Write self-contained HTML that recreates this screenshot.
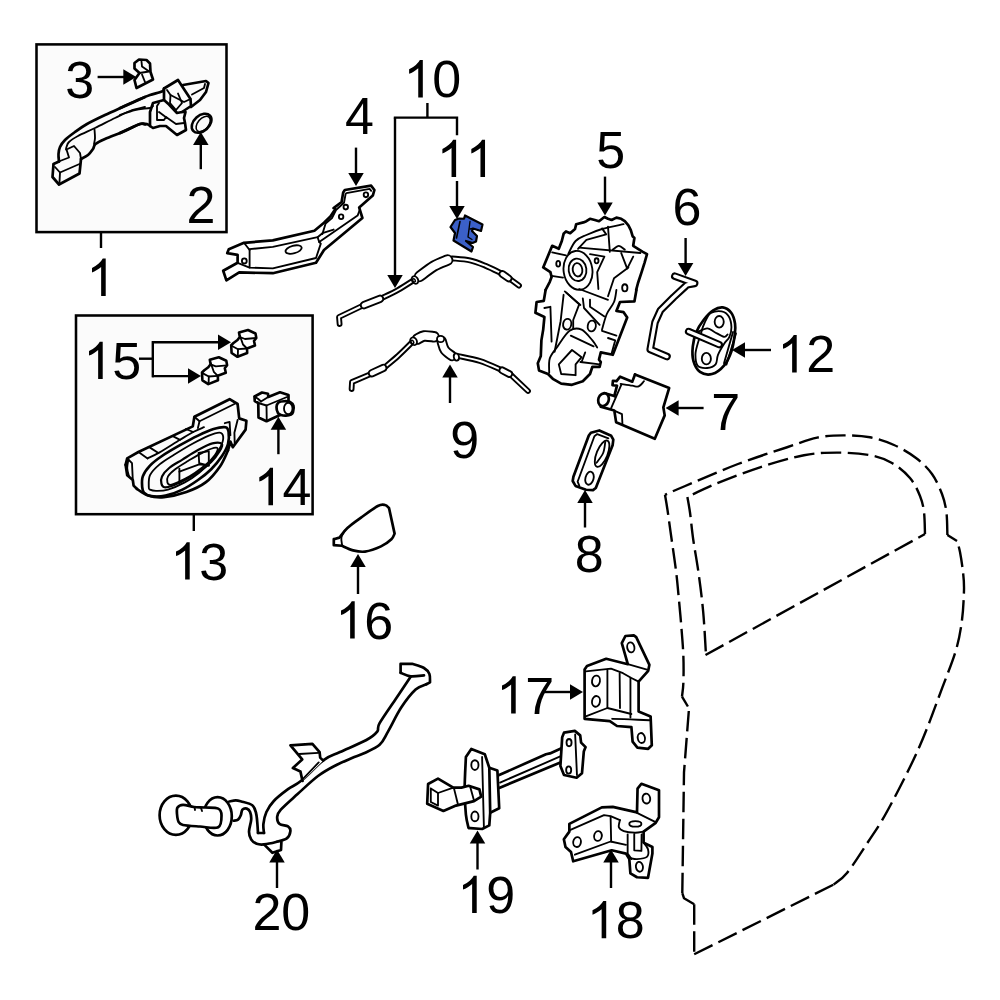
<!DOCTYPE html>
<html><head><meta charset="utf-8"><style>
html,body{margin:0;padding:0;background:#fff;}
svg{display:block;}
text{font-family:"Liberation Sans",sans-serif;font-size:52px;fill:#000;}
</style></head><body>
<svg width="1000" height="1000" viewBox="0 0 1000 1000">
<defs><path id="g1" d="M763 0h-180v1147q-65 -62 -170.5 -124t-189.5 -93v174q151 71 264 172t160 196h116v-1472z"/></defs>
<rect width="1000" height="1000" fill="#fff"/>
<rect x="36.5" y="44.4" width="190" height="187.7" fill="#fbfbfb" stroke="#000" stroke-width="2.55"/>
<rect x="76" y="315.5" width="236.6" height="198.7" fill="#fbfbfb" stroke="#000" stroke-width="2.55"/>
<line x1="101" y1="232" x2="101" y2="248" stroke="#000" stroke-width="2.4"/>
<line x1="193.8" y1="514" x2="193.8" y2="531" stroke="#000" stroke-width="2.4"/>
<polyline points="139,358.7 152.8,358.7" fill="none" stroke="#000" stroke-width="2.4"/>
<polyline points="152.8,342.3 152.8,376.1" fill="none" stroke="#000" stroke-width="2.4" stroke-linecap="square"/>
<line x1="152" y1="342.3" x2="219.00" y2="342.30" stroke="#000" stroke-width="2.4"/>
<polygon points="231,342.3 218.00,350.05 218.00,334.55" fill="#000"/>
<line x1="152" y1="376.1" x2="189.00" y2="376.10" stroke="#000" stroke-width="2.4"/>
<polygon points="201,376.1 188.00,383.85 188.00,368.35" fill="#000"/>
<line x1="427.4" y1="103" x2="427.4" y2="117.6" stroke="#000" stroke-width="2.4"/>
<polyline points="395,117.6 457,117.6 457,134" fill="none" stroke="#000" stroke-width="2.4" stroke-linecap="square"/>
<line x1="395" y1="117.6" x2="395.00" y2="276.00" stroke="#000" stroke-width="2.4"/>
<polygon points="395,288 387.25,275.00 402.75,275.00" fill="#000"/>
<line x1="97.6" y1="77" x2="124.30" y2="77.00" stroke="#000" stroke-width="2.4"/>
<polygon points="136.3,77 123.30,84.75 123.30,69.25" fill="#000"/>
<line x1="200.8" y1="169.2" x2="200.80" y2="144.10" stroke="#000" stroke-width="2.4"/>
<polygon points="200.8,132.1 208.55,145.10 193.05,145.10" fill="#000"/>
<line x1="356" y1="147.6" x2="356.00" y2="174.00" stroke="#000" stroke-width="2.4"/>
<polygon points="356,186 348.25,173.00 363.75,173.00" fill="#000"/>
<line x1="457" y1="181" x2="457.00" y2="207.00" stroke="#000" stroke-width="2.4"/>
<polygon points="457,219 449.25,206.00 464.75,206.00" fill="#000"/>
<line x1="605" y1="176.6" x2="605.00" y2="203.60" stroke="#000" stroke-width="2.4"/>
<polygon points="605,215.6 597.25,202.60 612.75,202.60" fill="#000"/>
<line x1="685.6" y1="238" x2="685.60" y2="264.00" stroke="#000" stroke-width="2.4"/>
<polygon points="685.6,276 677.85,263.00 693.35,263.00" fill="#000"/>
<line x1="771" y1="350" x2="744.00" y2="350.00" stroke="#000" stroke-width="2.4"/>
<polygon points="732,350 745.00,342.25 745.00,357.75" fill="#000"/>
<line x1="703.6" y1="408" x2="677.60" y2="408.00" stroke="#000" stroke-width="2.4"/>
<polygon points="665.6,408 678.60,400.25 678.60,415.75" fill="#000"/>
<line x1="450" y1="403" x2="450.00" y2="376.50" stroke="#000" stroke-width="2.4"/>
<polygon points="450,364.5 457.75,377.50 442.25,377.50" fill="#000"/>
<line x1="585" y1="527.5" x2="585.00" y2="502.00" stroke="#000" stroke-width="2.4"/>
<polygon points="585,490 592.75,503.00 577.25,503.00" fill="#000"/>
<line x1="278.4" y1="454.2" x2="278.40" y2="428.70" stroke="#000" stroke-width="2.4"/>
<polygon points="278.4,416.7 286.15,429.70 270.65,429.70" fill="#000"/>
<line x1="358" y1="594" x2="358.00" y2="566.00" stroke="#000" stroke-width="2.4"/>
<polygon points="358,554 365.75,567.00 350.25,567.00" fill="#000"/>
<line x1="544" y1="692" x2="571.00" y2="692.00" stroke="#000" stroke-width="2.4"/>
<polygon points="583,692 570.00,699.75 570.00,684.25" fill="#000"/>
<line x1="477.5" y1="869.5" x2="477.50" y2="842.50" stroke="#000" stroke-width="2.4"/>
<polygon points="477.5,830.5 485.25,843.50 469.75,843.50" fill="#000"/>
<line x1="611" y1="888" x2="611.00" y2="861.50" stroke="#000" stroke-width="2.4"/>
<polygon points="611,849.5 618.75,862.50 603.25,862.50" fill="#000"/>
<line x1="277" y1="888" x2="277.00" y2="861.50" stroke="#000" stroke-width="2.4"/>
<polygon points="277,849.5 284.75,862.50 269.25,862.50" fill="#000"/>
<path d="M665,494.8 C665.4,497.3 666.4,502.5 667.5,510 C668.6,517.5 670.2,529.6 671.7,540 C673.2,550.4 675,562.5 676.2,572.4 C677.4,582.3 678,589.8 678.9,599.4 C679.8,609 680.9,620.4 681.6,630 C682.4,639.6 683.1,648.3 683.4,657 C683.7,665.7 683.6,675.6 683.4,682.2 C683.2,688.8 682.2,694.2 682,696.6" fill="none" stroke="#000" stroke-width="2.4" stroke-dasharray="20.5 6.5"/>
<path d="M682,696.6 L687.9,706.5" fill="none" stroke="#000" stroke-width="2.4" stroke-dasharray="20.5 6.5"/>
<path d="M688.8,711 L684,772.4 L682.3,893.1" fill="none" stroke="#000" stroke-width="2.4" stroke-dasharray="20.5 6.5"/>
<path d="M682.3,893.1 L684,898.2 L694.2,904.3" fill="none" stroke="#000" stroke-width="2.4" stroke-dasharray="20.5 6.5"/>
<path d="M694.2,904.3 L694.2,954.3" fill="none" stroke="#000" stroke-width="2.4" stroke-dasharray="20.5 6.5"/>
<path d="M694.2,954.3 L833.6,884.6" fill="none" stroke="#000" stroke-width="2.4" stroke-dasharray="20.5 6.5"/>
<path d="M833.6,884.6 C835.9,882.6 841.5,879.8 847.2,872.7 C852.9,865.6 861.2,852.5 868,842 C874.8,831.5 879.6,825.4 888,809.8 C896.4,794.2 909.5,769 918.6,748.6 C927.7,728.2 936.2,703.8 942.4,687.4 C948.6,671 952.7,661.2 956,650 C959.3,638.8 960.7,630 962,620 C963.3,610 963.8,598 964,590 C964.2,582 963.7,578.3 963,572 C962.3,565.7 961,557.2 960,552 C959,546.8 957.5,542.8 957,541" fill="none" stroke="#000" stroke-width="2.4" stroke-dasharray="20.5 6.5"/>
<path d="M957,541 L947.4,535" fill="none" stroke="#000" stroke-width="2.4" stroke-dasharray="20.5 6.5"/>
<path d="M947.4,535 C947.2,531.2 947.3,518.8 946.4,512 C945.5,505.2 944.4,500.3 942,494 C939.6,487.7 936.3,480 932,474 C927.7,468 922.3,462.8 916,458 C909.7,453.2 901.7,448.4 894,445 C886.3,441.6 878.4,438.9 870,437.3 C861.6,435.7 852.4,435.3 843.6,435.4 C834.8,435.4 826.7,435.6 817.2,437.6 C807.7,439.6 799.6,443.1 786.4,447.5 C773.2,451.9 754.9,457.6 738,464 C721.1,470.4 697.4,480.9 685.2,486 C673,491.1 668.4,493.3 665,494.8" fill="none" stroke="#000" stroke-width="2.4" stroke-dasharray="20.5 6.5"/>
<path d="M687.4,497 C687.8,499.6 689,505.3 690,512.5 C691,519.7 691.8,529.7 693.3,540 C694.8,550.3 697.1,562.2 698.7,574.2 C700.4,586.2 702,598.8 703.2,612 C704.4,625.2 705.5,646.5 705.9,653.4" fill="none" stroke="#000" stroke-width="2.4" stroke-dasharray="20.5 6.5"/>
<path d="M705.5,655 L925,534" fill="none" stroke="#000" stroke-width="2.4" stroke-dasharray="20.5 6.5"/>
<path d="M925,534 C924.8,530.3 924.8,518.3 924,512 C923.2,505.7 922.3,501.7 920,496 C917.7,490.3 914.7,483.5 910,478 C905.3,472.5 898.7,466.8 892,463 C885.3,459.2 879.2,456.9 870,455.2 C860.8,453.5 848,452.6 837,452.6 C826,452.6 816.8,452.8 804,455.2 C791.2,457.6 774.7,462.5 760,467.3 C745.3,472.1 728.1,478.9 716,483.8 C703.9,488.8 692.2,494.8 687.4,497" fill="none" stroke="#000" stroke-width="2.4" stroke-dasharray="20.5 6.5"/>
<use href="#g1" transform="translate(86.34,296.00) scale(0.025390625,-0.025390625)"/>
<text x="186.60" y="223.00">2</text>
<text x="65.30" y="98.20">3</text>
<text x="345.10" y="134.40">4</text>
<text x="596.30" y="168.00">5</text>
<text x="672.60" y="225.10">6</text>
<text x="711.20" y="430.40">7</text>
<text x="574.80" y="571.50">8</text>
<text x="450.30" y="457.60">9</text>
<use href="#g1" transform="translate(403.44,97.40) scale(0.025390625,-0.025390625)"/>
<text x="432.36" y="97.40">0</text>
<use href="#g1" transform="translate(436.74,177.00) scale(0.025390625,-0.025390625)"/>
<use href="#g1" transform="translate(465.66,177.00) scale(0.025390625,-0.025390625)"/>
<use href="#g1" transform="translate(777.34,372.40) scale(0.025390625,-0.025390625)"/>
<text x="806.26" y="372.40">2</text>
<use href="#g1" transform="translate(170.34,579.60) scale(0.025390625,-0.025390625)"/>
<text x="199.26" y="579.60">3</text>
<use href="#g1" transform="translate(253.64,505.20) scale(0.025390625,-0.025390625)"/>
<text x="282.56" y="505.20">4</text>
<use href="#g1" transform="translate(83.34,379.10) scale(0.025390625,-0.025390625)"/>
<text x="112.26" y="379.10">5</text>
<use href="#g1" transform="translate(335.34,638.60) scale(0.025390625,-0.025390625)"/>
<text x="364.26" y="638.60">6</text>
<use href="#g1" transform="translate(496.34,713.60) scale(0.025390625,-0.025390625)"/>
<text x="525.26" y="713.60">7</text>
<use href="#g1" transform="translate(586.84,938.30) scale(0.025390625,-0.025390625)"/>
<text x="615.76" y="938.30">8</text>
<use href="#g1" transform="translate(457.34,913.10) scale(0.025390625,-0.025390625)"/>
<text x="486.26" y="913.10">9</text>
<text x="252.40" y="930.10">2</text>
<text x="281.32" y="930.10">0</text>
<g transform="translate(575,630) scale(0.12)" stroke-linejoin="round" stroke-linecap="round"><path d="M80,330 L100,300 L260,240 L440,285 L390,110 L420,50 L490,45 L510,60 L620,290 L610,340 L530,430 L530,680 L630,720 L640,960 L610,990 L520,980 L480,930 L470,810 L350,800 L290,760 L80,740Z" fill="#fff" stroke="#000" stroke-width="2.7" vector-effect="non-scaling-stroke"/><path d="M90,345 L300,322 L400,360 L470,400 L530,430" fill="none" stroke="#000" stroke-width="1.85" vector-effect="non-scaling-stroke"/><path d="M440,285 L600,330" fill="none" stroke="#000" stroke-width="1.85" vector-effect="non-scaling-stroke"/><path d="M270,330 L270,650" fill="none" stroke="#000" stroke-width="1.85" vector-effect="non-scaling-stroke"/><path d="M372,360 L375,650" fill="none" stroke="#000" stroke-width="1.85" vector-effect="non-scaling-stroke"/><path d="M462,400 L462,730" fill="none" stroke="#000" stroke-width="1.85" vector-effect="non-scaling-stroke"/><path d="M90,720 L270,650 L470,700" fill="none" stroke="#000" stroke-width="1.85" vector-effect="non-scaling-stroke"/><path d="M310,740 C335,740.8 408.3,743 460,745 C511.7,747 593.3,750.8 620,752" fill="none" stroke="#000" stroke-width="1.85" vector-effect="non-scaling-stroke"/><ellipse cx="175" cy="425" rx="33" ry="45" transform="rotate(10 175 425)" fill="none" stroke="#000" stroke-width="1.85" vector-effect="non-scaling-stroke"/><ellipse cx="175" cy="595" rx="33" ry="45" transform="rotate(10 175 595)" fill="none" stroke="#000" stroke-width="1.85" vector-effect="non-scaling-stroke"/><ellipse cx="465" cy="145" rx="30" ry="42" transform="rotate(-10 465 145)" fill="none" stroke="#000" stroke-width="1.85" vector-effect="non-scaling-stroke"/><ellipse cx="553" cy="900" rx="30" ry="42" transform="rotate(-10 553 900)" fill="none" stroke="#000" stroke-width="1.85" vector-effect="non-scaling-stroke"/></g>
<g transform="translate(560,770) scale(0.11)" stroke-linejoin="round" stroke-linecap="round"><path d="M85,490 L380,340 L480,335 L700,385 L705,170 L740,125 L900,185 L900,430 L870,480 L760,560 L760,660 L840,700 L840,760 L800,980 L700,975 L640,940 L630,810 L600,760 L470,730 L120,830 L100,745 L50,700 L35,630 L85,560Z" fill="#fff" stroke="#000" stroke-width="2.7" vector-effect="non-scaling-stroke"/><path d="M95,545 L400,410 L460,420 L545,455" fill="none" stroke="#000" stroke-width="1.85" vector-effect="non-scaling-stroke"/><path d="M460,425 L465,650" fill="none" stroke="#000" stroke-width="1.85" vector-effect="non-scaling-stroke"/><path d="M135,770 L460,650 L600,680" fill="none" stroke="#000" stroke-width="1.85" vector-effect="non-scaling-stroke"/><path d="M545,455 C543.3,465.8 529.2,503.3 535,520 C540.8,536.7 555.8,546.7 580,555 C604.2,563.3 650,569.2 680,570 C710,570.8 746.7,561.7 760,560" fill="none" stroke="#000" stroke-width="1.85" vector-effect="non-scaling-stroke"/><ellipse cx="685" cy="490" rx="55" ry="25" transform="rotate(0 685 490)" fill="none" stroke="#000" stroke-width="1.85" vector-effect="non-scaling-stroke"/><path d="M615,585 L615,760 L650,810" fill="none" stroke="#000" stroke-width="1.85" vector-effect="non-scaling-stroke"/><path d="M675,580 L675,730 L740,735 L742,585" fill="none" stroke="#000" stroke-width="1.85" vector-effect="non-scaling-stroke"/><path d="M760,660 C766.7,670 795,698.3 800,720 C805,741.7 806.7,775 790,790 C773.3,805 725,808.3 700,810 C675,811.7 650,801.7 640,800" fill="none" stroke="#000" stroke-width="1.85" vector-effect="non-scaling-stroke"/><path d="M700,390 L860,470" fill="none" stroke="#000" stroke-width="1.85" vector-effect="non-scaling-stroke"/><ellipse cx="155" cy="655" rx="35" ry="45" transform="rotate(10 155 655)" fill="none" stroke="#000" stroke-width="1.85" vector-effect="non-scaling-stroke"/><ellipse cx="345" cy="600" rx="35" ry="45" transform="rotate(10 345 600)" fill="none" stroke="#000" stroke-width="1.85" vector-effect="non-scaling-stroke"/><ellipse cx="785" cy="260" rx="35" ry="45" transform="rotate(-10 785 260)" fill="none" stroke="#000" stroke-width="1.85" vector-effect="non-scaling-stroke"/><ellipse cx="722" cy="880" rx="32" ry="45" transform="rotate(-10 722 880)" fill="none" stroke="#000" stroke-width="1.85" vector-effect="non-scaling-stroke"/></g>
<g transform="translate(420,730) scale(0.18)" stroke-linejoin="round" stroke-linecap="round"><path d="M440,250 L700,135 L722,130 L795,97" fill="none" stroke="#000" stroke-width="2.7" vector-effect="non-scaling-stroke"/><path d="M440,322 L800,172" fill="none" stroke="#000" stroke-width="2.7" vector-effect="non-scaling-stroke"/><path d="M445,292 L795,140" fill="none" stroke="#000" stroke-width="1.85" vector-effect="non-scaling-stroke"/><path d="M780,200 L790,40 L800,15 L860,5 L890,30 L895,70 L920,95 L910,120 L900,240 L870,265 L800,250 L780,200Z" fill="#fff" stroke="#000" stroke-width="2.7" vector-effect="non-scaling-stroke"/><path d="M862,25 L872,250" fill="none" stroke="#000" stroke-width="1.85" vector-effect="non-scaling-stroke"/><ellipse cx="828" cy="70" rx="14" ry="20" transform="rotate(0 828 70)" fill="none" stroke="#000" stroke-width="1.85" vector-effect="non-scaling-stroke"/><ellipse cx="826" cy="222" rx="14" ry="20" transform="rotate(0 826 222)" fill="none" stroke="#000" stroke-width="1.85" vector-effect="non-scaling-stroke"/><path d="M385,210 L430,225 L440,435 L390,460" fill="#fff" stroke="#000" stroke-width="2.7" vector-effect="non-scaling-stroke"/><path d="M270,545 C267.5,532.5 258.7,505.8 255,470 C251.3,434.2 248,383.3 248,330 C248,276.7 253.8,180 255,150 L285,105 L360,135 L385,210 L390,460 L385,530 L345,550 L280,545 L270,545Z" fill="#fff" stroke="#000" stroke-width="2.7" vector-effect="non-scaling-stroke"/><path d="M345,150 L355,540" fill="none" stroke="#000" stroke-width="1.85" vector-effect="non-scaling-stroke"/><ellipse cx="305" cy="195" rx="20" ry="27" transform="rotate(0 305 195)" fill="none" stroke="#000" stroke-width="1.85" vector-effect="non-scaling-stroke"/><ellipse cx="305" cy="480" rx="20" ry="27" transform="rotate(0 305 480)" fill="none" stroke="#000" stroke-width="1.85" vector-effect="non-scaling-stroke"/><path d="M45,300 L100,270 L185,320 L230,320 L270,310 L330,330 L340,370 L300,395 L200,420 L130,450 L40,410Z" fill="#fff" stroke="#000" stroke-width="2.7" vector-effect="non-scaling-stroke"/><path d="M60,325 L60,400 L100,420 L100,350 L60,325" fill="none" stroke="#000" stroke-width="1.85" vector-effect="non-scaling-stroke"/><path d="M100,350 L185,320" fill="none" stroke="#000" stroke-width="1.85" vector-effect="non-scaling-stroke"/><path d="M190,330 L210,410" fill="none" stroke="#000" stroke-width="1.85" vector-effect="non-scaling-stroke"/><path d="M280,320 L300,392" fill="none" stroke="#000" stroke-width="1.85" vector-effect="non-scaling-stroke"/></g>
<g transform="translate(0,0) scale(1)" stroke-linejoin="round" stroke-linecap="round"><path d="M410.8,676.4 C408.4,680 401.6,690.2 396.4,698 C391.2,705.8 382.8,717.6 379.6,723.2 C376.4,728.8 379.4,728.8 377.2,731.6 C375,734.4 372.6,736.6 366.4,740 C360.2,743.4 347.1,748.7 340,752 C332.9,755.3 330.5,755 324,759.8 C317.5,764.6 307.2,775.9 301.2,780.8 C295.2,785.7 292.6,785.8 288,789.2 C283.4,792.6 277.2,797.4 273.6,801.2 C270,805 268.1,808.2 266.4,812 C264.7,815.8 263.8,820.5 263.4,824 C263,827.5 263.9,831.5 264,833" fill="none" stroke="#000" stroke-width="2.7" vector-effect="non-scaling-stroke"/><path d="M264,833 L258,833" fill="none" stroke="#000" stroke-width="2.7" vector-effect="non-scaling-stroke"/><path d="M258,833 C257.9,831.5 257.7,827.3 257.4,824 C257.1,820.7 256.9,816.1 256,813 C255.2,809.9 254.8,807.2 252.3,805.3 C249.9,803.4 244.1,802.3 241.3,801.5 C238.6,800.7 237.8,800.4 235.8,800.4 C233.8,800.4 230.3,801.3 229.2,801.5" fill="none" stroke="#000" stroke-width="2.7" vector-effect="non-scaling-stroke"/><path d="M426.4,684.2 C424.6,685.1 419.8,685.7 415.6,689.6 C411.4,693.5 405.8,700.6 401.2,707.6 C396.6,714.6 391.6,725.4 388,731.6 C384.4,737.8 383.6,741.2 379.6,744.8 C375.6,748.4 368.6,751 364,753.2 C359.4,755.4 356.7,756 352,758 C347.3,760 341.7,762.2 336,765.2 C330.3,768.2 324.4,771.2 318,776 C311.6,780.8 303.8,788.4 297.6,794 C291.4,799.6 284.2,805.8 280.8,809.6 C277.4,813.4 277.4,814.4 277.2,816.8 C277,819.2 277.8,822.4 279.6,824 C281.4,825.6 286.2,825.2 288,826.4 C289.8,827.6 290.6,829.2 290.4,831.2 C290.2,833.2 289.2,836.6 286.8,838.4 C284.4,840.2 279.8,841 276,842 C272.2,843 267.2,844.1 264,844.4 C260.8,844.7 258.8,844.6 256.7,843.8 C254.6,843 252.5,841.4 251.2,839.4 C249.9,837.4 249,835 249,831.7 C249,828.4 251,822.9 251.2,819.6 C251.4,816.3 250.8,813.7 250.1,811.9 C249.4,810.1 248.1,809 246.8,808.6 C245.5,808.2 243.4,808.6 242.4,809.7 C241.4,810.8 241.5,813.6 240.8,815.2 C240.1,816.9 239.2,818.7 238,819.6 C236.8,820.5 234.3,820.5 233.6,820.7" fill="none" stroke="#000" stroke-width="2.7" vector-effect="non-scaling-stroke"/><path d="M400.6,672.8 L400.6,663.8 L412,663.8 C414,664.5 421.1,666.3 424,668 C426.9,669.7 428.4,671.6 429.4,674 C430.4,676.4 429.9,681 430,682.4 L426.4,684.2" fill="none" stroke="#000" stroke-width="2.7" vector-effect="non-scaling-stroke"/><path d="M400.6,672.8 C402.3,673.4 406.9,676 410.8,676.4 C414.7,676.8 421.8,675.6 424,675.4" fill="none" stroke="#000" stroke-width="2.7" vector-effect="non-scaling-stroke"/><path d="M264,844.4 L272.4,852.8 L281,850 L281.4,842" fill="none" stroke="#000" stroke-width="2.7" vector-effect="non-scaling-stroke"/><ellipse cx="175.9" cy="815.2" rx="16.3" ry="19.6" transform="rotate(0 175.9 815.2)" fill="#fff" stroke="#000" stroke-width="2.7" vector-effect="non-scaling-stroke"/><ellipse cx="217.6" cy="816.3" rx="14.2" ry="19.2" transform="rotate(0 217.6 816.3)" fill="#fff" stroke="#000" stroke-width="2.7" vector-effect="non-scaling-stroke"/><path d="M177.5,807.5 C178.5,806 180.2,804.9 183,804.8 C185.8,804.7 190.3,806.5 194,807 C197.7,807.5 201,807.2 205,807.5 C209,807.8 215.4,807.3 218.2,808.6 C220.9,809.9 221.5,812.1 221.5,815.2 C221.5,818.3 221.8,825.4 218.2,827.3 C214.6,829.2 205.9,826.9 200,826.5 C194.1,826.1 186.6,825.8 183,825 C179.4,824.2 179.6,823.6 178.6,821.8 C177.6,820 177.2,816.4 177,814 C176.8,811.6 176.5,809 177.5,807.5Z" fill="#fff" stroke="#000" stroke-width="2.7" vector-effect="non-scaling-stroke"/><path d="M194.5,807 L195,810" fill="none" stroke="#000" stroke-width="1.85" vector-effect="non-scaling-stroke"/><path d="M201,808 L202,811" fill="none" stroke="#000" stroke-width="1.85" vector-effect="non-scaling-stroke"/></g>
<g transform="translate(280,730) scale(0.06)" stroke-linejoin="round" stroke-linecap="round"><path d="M375,850 L340,690 L215,635 L370,490 L175,255 L540,230 L660,370 L670,460 L720,510Z" fill="#fff" stroke="none" stroke-width="0" vector-effect="non-scaling-stroke"/><path d="M375,850 L340,690 L215,635 L370,490 L175,255 L540,230 L660,370 L670,460 L720,510" fill="none" stroke="#000" stroke-width="2.7" vector-effect="non-scaling-stroke"/><path d="M320,400 L640,380" fill="none" stroke="#000" stroke-width="1.85" vector-effect="non-scaling-stroke"/><path d="M380,820 L645,540" fill="none" stroke="#000" stroke-width="1.85" vector-effect="non-scaling-stroke"/></g>
<g transform="translate(100,380) scale(0.16)" stroke-linejoin="round" stroke-linecap="round"><path d="M160,530 L170,490 L240,450 L580,290 L590,230 L810,120 L860,150 L870,240 L915,255 L910,310 L830,420 L815,385 L800,440" fill="none" stroke="#000" stroke-width="2.7" vector-effect="non-scaling-stroke"/><path d="M800,440 C791.7,456.7 773.3,506.7 750,540 C726.7,573.3 695,613.3 660,640 C625,666.7 583.3,684.7 540,700 C496.7,715.3 440,728.3 400,732 C360,735.7 328.3,730.7 300,722 C271.7,713.3 241.7,687 230,680" fill="none" stroke="#000" stroke-width="2.7" vector-effect="non-scaling-stroke"/><path d="M230,680 L210,660 L205,625 L170,595 L160,530" fill="none" stroke="#000" stroke-width="2.7" vector-effect="non-scaling-stroke"/><path d="M590,230 L622,258 L840,150" fill="none" stroke="#000" stroke-width="1.85" vector-effect="non-scaling-stroke"/><path d="M622,258 L612,300" fill="none" stroke="#000" stroke-width="1.85" vector-effect="non-scaling-stroke"/><path d="M860,250 L840,330 L842,400" fill="none" stroke="#000" stroke-width="1.85" vector-effect="non-scaling-stroke"/><path d="M780,270 L810,262 L815,345" fill="none" stroke="#000" stroke-width="1.85" vector-effect="non-scaling-stroke"/><path d="M180,500 L200,520 L205,625" fill="none" stroke="#000" stroke-width="1.85" vector-effect="non-scaling-stroke"/></g>
<g transform="translate(120,420) scale(0.12)" stroke-linejoin="round" stroke-linecap="round"><path d="M185,560 C183.3,537.5 179.2,500 190,470 C200.8,440 223.3,408.3 250,380 C276.7,351.7 308.3,328.3 350,300 C391.7,271.7 450,238.3 500,210 C550,181.7 603.3,152.5 650,130 C696.7,107.5 741.7,86.7 780,75 C818.3,63.3 859.2,55.8 880,60 C900.8,64.2 901.7,76.7 905,100 C908.3,123.3 909.2,166.7 900,200 C890.8,233.3 873.3,265 850,300 C826.7,335 793.3,376.7 760,410 C726.7,443.3 690,471.7 650,500 C610,528.3 565,558.3 520,580 C475,601.7 423.3,620.8 380,630 C336.7,639.2 290,639.2 260,635 C230,630.8 212.5,617.5 200,605 C187.5,592.5 186.7,582.5 185,560Z" fill="none" stroke="#000" stroke-width="2.7" vector-effect="non-scaling-stroke"/><path d="M240,560 C240,540 235,491.7 250,460 C265,428.3 296.7,398.3 330,370 C363.3,341.7 405,318.3 450,290 C495,261.7 551.7,226.7 600,200 C648.3,173.3 701.7,145.8 740,130 C778.3,114.2 810,103.3 830,105 C850,106.7 858.3,120.8 860,140 C861.7,159.2 855,188.3 840,220 C825,251.7 800,293.3 770,330 C740,366.7 698.3,408.3 660,440 C621.7,471.7 583.3,496.7 540,520 C496.7,543.3 440,568.3 400,580 C360,591.7 325,590 300,590 C275,590 260,585 250,580 C240,575 240,580 240,560Z" fill="none" stroke="#000" stroke-width="1.85" vector-effect="non-scaling-stroke"/><path d="M345,530 C341.7,515 339.2,491.7 350,470 C360.8,448.3 381.7,423.3 410,400 C438.3,376.7 480,355 520,330 C560,305 608.3,272.5 650,250 C691.7,227.5 736.7,203.3 770,195 C803.3,186.7 840,189.2 850,200 C860,210.8 845,235 830,260 C815,285 788.3,321.7 760,350 C731.7,378.3 696.7,405 660,430 C623.3,455 578.3,480 540,500 C501.7,520 458.3,540 430,550 C401.7,560 384.2,563.3 370,560 C355.8,556.7 348.3,545 345,530Z" fill="none" stroke="#000" stroke-width="2.2" vector-effect="non-scaling-stroke"/><path d="M395,520 C391.7,508.3 389.2,488.3 400,470 C410.8,451.7 431.7,431.7 460,410 C488.3,388.3 530,364.2 570,340 C610,315.8 661.7,283.3 700,265 C738.3,246.7 781.7,230.8 800,230 C818.3,229.2 816.7,243.3 810,260 C803.3,276.7 781.7,306.7 760,330 C738.3,353.3 710,376.7 680,400 C650,423.3 613.3,450 580,470 C546.7,490 506.7,508.3 480,520 C453.3,531.7 434.2,540 420,540 C405.8,540 398.3,531.7 395,520Z" fill="none" stroke="#000" stroke-width="1.85" vector-effect="non-scaling-stroke"/><path d="M495,405 L495,530" fill="none" stroke="#000" stroke-width="1.85" vector-effect="non-scaling-stroke"/><path d="M495,430 L660,370 L740,380" fill="none" stroke="#000" stroke-width="1.85" vector-effect="non-scaling-stroke"/><path d="M655,275 L740,260 L740,380 L660,360 L655,275" fill="none" stroke="#000" stroke-width="1.85" vector-effect="non-scaling-stroke"/><path d="M160,270 L230,320" fill="none" stroke="#000" stroke-width="1.85" vector-effect="non-scaling-stroke"/><path d="M250,230 L320,275" fill="none" stroke="#000" stroke-width="1.85" vector-effect="non-scaling-stroke"/><path d="M440,135 L500,165" fill="none" stroke="#000" stroke-width="1.85" vector-effect="non-scaling-stroke"/><path d="M550,75 L610,100" fill="none" stroke="#000" stroke-width="1.85" vector-effect="non-scaling-stroke"/><path d="M230,320 C246.7,311.7 285,295.8 330,270 C375,244.2 453.3,193.3 500,165 C546.7,136.7 576.7,117.5 610,100 C643.3,82.5 685,66.7 700,60" fill="none" stroke="#000" stroke-width="1.85" vector-effect="non-scaling-stroke"/><path d="M70,330 C68.3,341.7 59.2,376.7 60,400 C60.8,423.3 72.5,458.3 75,470" fill="none" stroke="#000" stroke-width="1.85" vector-effect="non-scaling-stroke"/></g>
<g transform="translate(250,385) scale(0.05)" stroke-linejoin="round" stroke-linecap="round"><path d="M560,560 C545,533.3 528.3,475 530,440 C531.7,405 545,369.2 570,350 C595,330.8 641.7,326.7 680,325 C718.3,323.3 768.3,324.2 800,340 C831.7,355.8 860,386.7 870,420 C880,453.3 868.3,511.7 860,540 C851.7,568.3 843.3,578 820,590 C796.7,602 753.3,610.3 720,612 C686.7,613.7 646.7,608.7 620,600 C593.3,591.3 575,586.7 560,560Z" fill="#fff" stroke="#000" stroke-width="2.7" vector-effect="non-scaling-stroke"/><ellipse cx="765" cy="470" rx="85" ry="115" transform="rotate(0 765 470)" fill="none" stroke="#000" stroke-width="1.85" vector-effect="non-scaling-stroke"/><path d="M600,600 L330,725 L170,650 L165,360 L95,320 L90,230 L240,150 L360,175 L365,240 L600,145 L770,200 L770,330" fill="none" stroke="#000" stroke-width="2.7" vector-effect="non-scaling-stroke"/><path d="M165,360 L330,410 L740,240" fill="none" stroke="#000" stroke-width="1.85" vector-effect="non-scaling-stroke"/><path d="M330,410 L335,720" fill="none" stroke="#000" stroke-width="1.85" vector-effect="non-scaling-stroke"/><path d="M220,330 L365,240" fill="none" stroke="#000" stroke-width="1.85" vector-effect="non-scaling-stroke"/><path d="M90,230 L165,280 L220,330" fill="none" stroke="#000" stroke-width="1.85" vector-effect="non-scaling-stroke"/></g>
<g transform="translate(160.0,320.0) scale(0.1)" stroke-linejoin="round" stroke-linecap="round"><path d="M712,252 L716,330 L775,368 L872,330 L870,285 L950,255 L940,210 L963,180 L955,135 L880,100 L790,125 L798,170 L775,200 L735,230Z" fill="#fff" stroke="#000" stroke-width="2.6" vector-effect="non-scaling-stroke"/><path d="M716,258 L780,292 L870,285" fill="none" stroke="#000" stroke-width="1.85" vector-effect="non-scaling-stroke"/><path d="M780,292 L778,365" fill="none" stroke="#000" stroke-width="1.85" vector-effect="non-scaling-stroke"/><path d="M798,170 L850,190 L960,180" fill="none" stroke="#000" stroke-width="1.85" vector-effect="non-scaling-stroke"/><path d="M800,160 L830,245 L870,285" fill="none" stroke="#000" stroke-width="1.85" vector-effect="non-scaling-stroke"/></g>
<g transform="translate(130.8,347.3) scale(0.1)" stroke-linejoin="round" stroke-linecap="round"><path d="M712,252 L716,330 L775,368 L872,330 L870,285 L950,255 L940,210 L963,180 L955,135 L880,100 L790,125 L798,170 L775,200 L735,230Z" fill="#fff" stroke="#000" stroke-width="2.6" vector-effect="non-scaling-stroke"/><path d="M716,258 L780,292 L870,285" fill="none" stroke="#000" stroke-width="1.85" vector-effect="non-scaling-stroke"/><path d="M780,292 L778,365" fill="none" stroke="#000" stroke-width="1.85" vector-effect="non-scaling-stroke"/><path d="M798,170 L850,190 L960,180" fill="none" stroke="#000" stroke-width="1.85" vector-effect="non-scaling-stroke"/><path d="M800,160 L830,245 L870,285" fill="none" stroke="#000" stroke-width="1.85" vector-effect="non-scaling-stroke"/></g>
<g transform="translate(325,500) scale(0.08)" stroke-linejoin="round" stroke-linecap="round"><path d="M110,490 L180,470 C196.7,450 235,391.7 280,350 C325,308.3 386.7,265.8 450,220 C513.3,174.2 610,101.3 660,75 C710,48.7 726.7,57.8 750,62 C773.3,66.2 791.7,93.7 800,100 L870,420 C863.3,431.7 858.3,463.3 830,490 C801.7,516.7 755,554.2 700,580 C645,605.8 558.3,636.7 500,645 C441.7,653.3 398.3,642.2 350,630 C301.7,617.8 233.3,581.7 210,572 L110,565 L110,490" fill="none" stroke="#000" stroke-width="2.7" vector-effect="non-scaling-stroke"/><path d="M250,380 C242.5,395 210.8,438.3 205,470 C199.2,501.7 213.3,553.3 215,570" fill="none" stroke="#000" stroke-width="1.85" vector-effect="non-scaling-stroke"/></g>
<g transform="translate(640,260) scale(0.12)" stroke-linejoin="round" stroke-linecap="round"><path d="M290,135 L455,195 L392,207 L280,310 L170,420 L125,520 L85,745 L225,805" fill="none" stroke="#000" stroke-width="7.6" vector-effect="non-scaling-stroke"/><path d="M290,135 L455,195 L392,207 L280,310 L170,420 L125,520 L85,745 L225,805" fill="none" stroke="#fff" stroke-width="3.3999999999999995" vector-effect="non-scaling-stroke"/><path d="M690,395 C715,398.3 743,417.5 760,440 C777,462.5 787,500 792,530 C797,560 795,581.7 790,620 C785,658.3 777,716.7 762,760 C747,803.3 727,848.3 700,880 C673,911.7 633.3,941.3 600,950 C566.7,958.7 525.8,950.3 500,932 C474.2,913.7 455,875.3 445,840 C435,804.7 435.8,760 440,720 C444.2,680 455,636.7 470,600 C485,563.3 506.7,530 530,500 C553.3,470 583.3,437.5 610,420 C636.7,402.5 665,391.7 690,395Z" fill="#fff" stroke="#000" stroke-width="2.7" vector-effect="non-scaling-stroke"/><path d="M590,440 C610,431.3 655,423 680,428 C705,433 726.3,448 740,470 C753.7,492 761.2,531.7 762,560 C762.8,588.3 755.3,616.7 745,640 C734.7,663.3 715.8,675 700,700 C684.2,725 661.7,761.7 650,790 C638.3,818.3 645,851.7 630,870 C615,888.3 585,898.3 560,900 C535,901.7 496.3,898.3 480,880 C463.7,861.7 462,820 462,790 C462,760 472.8,727.5 480,700 C487.2,672.5 497.5,649.2 505,625 C512.5,600.8 515.8,579.2 525,555 C534.2,530.8 549.2,499.2 560,480 C570.8,460.8 570,448.7 590,440Z" fill="none" stroke="#000" stroke-width="1.85" vector-effect="non-scaling-stroke"/><ellipse cx="660" cy="515" rx="38" ry="48" transform="rotate(0 660 515)" fill="none" stroke="#000" stroke-width="1.85" vector-effect="non-scaling-stroke"/><ellipse cx="553" cy="822" rx="38" ry="48" transform="rotate(0 553 822)" fill="none" stroke="#000" stroke-width="1.85" vector-effect="non-scaling-stroke"/><path d="M405,596 L660,705" fill="none" stroke="#000" stroke-width="7.4" vector-effect="non-scaling-stroke"/><path d="M405,596 L660,705" fill="none" stroke="#fff" stroke-width="3.4000000000000004" vector-effect="non-scaling-stroke"/><path d="M775,600 L700,860" fill="none" stroke="#000" stroke-width="1.85" vector-effect="non-scaling-stroke"/><path d="M800,612 L720,872" fill="none" stroke="#000" stroke-width="1.85" vector-effect="non-scaling-stroke"/><path d="M480,600 C493.3,595 536.7,570 560,570 C583.3,570 596.7,588.3 620,600 C643.3,611.7 681.7,636.7 700,640 C718.3,643.3 725,623.3 730,620" fill="none" stroke="#000" stroke-width="1.85" vector-effect="non-scaling-stroke"/></g>
<g transform="translate(590,365) scale(0.09)" stroke-linejoin="round" stroke-linecap="round"><path d="M118,462 L270,505 L290,635 L720,820 L830,560 L815,470 L880,255 L500,105" fill="#fff" stroke="#000" stroke-width="2.7" vector-effect="non-scaling-stroke"/><path d="M270,345 L300,230 L250,225 L255,175 L295,180 L335,130 L470,185 L500,105" fill="none" stroke="#000" stroke-width="2.7" vector-effect="non-scaling-stroke"/><path d="M158,313 L270,345" fill="none" stroke="#000" stroke-width="2.7" vector-effect="non-scaling-stroke"/><ellipse cx="150" cy="385" rx="58" ry="72" transform="rotate(20 150 385)" fill="#fff" stroke="#000" stroke-width="2.7" vector-effect="non-scaling-stroke"/><path d="M350,215 L235,480" fill="none" stroke="#000" stroke-width="1.85" vector-effect="non-scaling-stroke"/><path d="M340,210 C361.7,213.3 436.7,225.3 470,230 C503.3,234.7 518.3,246.3 540,238 C561.7,229.7 590,189.7 600,180" fill="none" stroke="#000" stroke-width="1.85" vector-effect="non-scaling-stroke"/><path d="M275,510 L355,545 L360,650" fill="none" stroke="#000" stroke-width="1.85" vector-effect="non-scaling-stroke"/></g>
<g transform="translate(565,425) scale(0.07)" stroke-linejoin="round" stroke-linecap="round"><path d="M370,110 L490,78 L660,155 L690,210 L680,290 L440,900 L400,930 L300,925 L150,870 L110,800 L120,740 L340,150Z" fill="none" stroke="#000" stroke-width="2.7" vector-effect="non-scaling-stroke"/><path d="M205,870 L180,810 L420,160 L460,130 L620,190" fill="none" stroke="#000" stroke-width="1.85" vector-effect="non-scaling-stroke"/><ellipse cx="530" cy="410" rx="78" ry="200" transform="rotate(22 530 410)" fill="none" stroke="#000" stroke-width="1.85" vector-effect="non-scaling-stroke"/><path d="M575,245 C570,270.8 565.8,350.8 545,400 C524.2,449.2 465.8,516.7 450,540" fill="none" stroke="#000" stroke-width="1.85" vector-effect="non-scaling-stroke"/><ellipse cx="350" cy="760" rx="58" ry="95" transform="rotate(15 350 760)" fill="none" stroke="#000" stroke-width="1.85" vector-effect="non-scaling-stroke"/></g>
<g transform="translate(530,205) scale(0.12)" stroke-linejoin="round" stroke-linecap="round"><path d="M130,708 L165,640 L180,600 L170,560 L110,520 L185,340 L240,365 L265,300 L280,240 L300,220 L335,235 L375,200 L385,160 L445,145 L470,135 L500,115 L540,125 L575,135 L620,100 L650,115 L680,125 L720,105 L760,115 L790,135 L820,170 L840,210 L855,260 L870,275 L860,340 L940,390 L975,410 L955,480 L930,560 L900,650 L885,708" fill="none" stroke="#000" stroke-width="2.7" vector-effect="non-scaling-stroke"/><ellipse cx="400" cy="545" rx="120" ry="163" transform="rotate(-8 400 545)" fill="none" stroke="#000" stroke-width="1.85" vector-effect="non-scaling-stroke"/><ellipse cx="396" cy="540" rx="74" ry="94" transform="rotate(-8 396 540)" fill="none" stroke="#000" stroke-width="1.85" vector-effect="non-scaling-stroke"/><ellipse cx="396" cy="540" rx="40" ry="56" transform="rotate(-8 396 540)" fill="none" stroke="#000" stroke-width="1.85" vector-effect="non-scaling-stroke"/><ellipse cx="235" cy="490" rx="16" ry="24" transform="rotate(0 235 490)" fill="none" stroke="#000" stroke-width="1.85" vector-effect="non-scaling-stroke"/><ellipse cx="555" cy="465" rx="16" ry="21" transform="rotate(0 555 465)" fill="none" stroke="#000" stroke-width="1.85" vector-effect="non-scaling-stroke"/><ellipse cx="790" cy="690" rx="22" ry="30" transform="rotate(0 790 690)" fill="none" stroke="#000" stroke-width="1.85" vector-effect="non-scaling-stroke"/><path d="M185,395 L300,420" fill="none" stroke="#000" stroke-width="1.85" vector-effect="non-scaling-stroke"/><path d="M180,590 L275,605" fill="none" stroke="#000" stroke-width="1.85" vector-effect="non-scaling-stroke"/><path d="M320,405 C330,387.5 355,325.8 380,300 C405,274.2 433.3,266.7 470,250 C506.7,233.3 548.3,215 600,200 C651.7,185 750,166.7 780,160" fill="none" stroke="#000" stroke-width="1.85" vector-effect="non-scaling-stroke"/><path d="M410,355 L920,400" fill="none" stroke="#000" stroke-width="1.85" vector-effect="non-scaling-stroke"/><path d="M650,180 L665,390" fill="none" stroke="#000" stroke-width="1.85" vector-effect="non-scaling-stroke"/><path d="M600,195 L635,245 L470,290 L400,365" fill="none" stroke="#000" stroke-width="1.85" vector-effect="non-scaling-stroke"/><path d="M690,372 C698.3,366.7 723.3,340 740,340 C756.7,340 781.7,366.7 790,372" fill="none" stroke="#000" stroke-width="1.85" vector-effect="non-scaling-stroke"/><path d="M760,400 L810,530 L860,430" fill="none" stroke="#000" stroke-width="1.85" vector-effect="non-scaling-stroke"/><path d="M500,410 L620,430 L560,560 L570,700" fill="none" stroke="#000" stroke-width="1.85" vector-effect="non-scaling-stroke"/><path d="M410,700 L650,790" fill="none" stroke="#000" stroke-width="1.85" vector-effect="non-scaling-stroke"/><path d="M290,720 L420,833" fill="none" stroke="#000" stroke-width="1.85" vector-effect="non-scaling-stroke"/><path d="M820,520 L700,610 L650,760" fill="none" stroke="#000" stroke-width="1.85" vector-effect="non-scaling-stroke"/></g>
<g transform="translate(530,290) scale(0.12)" stroke-linejoin="round" stroke-linecap="round"><path d="M130,0 L115,90 L55,100 L45,190 L120,225 L110,330 L95,420 L90,550 L65,610 L75,670 L150,700 L190,740 L260,780 L350,790 L440,760 L500,700 L520,640 L580,640 L590,600 L575,580 L590,520 L690,540 L810,230 L780,185 L720,175 L750,100 L870,95 L887,0" fill="none" stroke="#000" stroke-width="2.7" vector-effect="non-scaling-stroke"/><ellipse cx="310" cy="285" rx="34" ry="45" transform="rotate(10 310 285)" fill="none" stroke="#000" stroke-width="1.85" vector-effect="non-scaling-stroke"/><ellipse cx="515" cy="300" rx="34" ry="45" transform="rotate(10 515 300)" fill="none" stroke="#000" stroke-width="1.85" vector-effect="non-scaling-stroke"/><path d="M240,620 L350,500 L430,560 L380,620 L380,710 L260,700Z" fill="none" stroke="#000" stroke-width="1.85" vector-effect="non-scaling-stroke"/><path d="M280,40 L255,260 L205,515" fill="none" stroke="#000" stroke-width="1.85" vector-effect="non-scaling-stroke"/><path d="M300,20 L410,120 L360,250 L360,320" fill="none" stroke="#000" stroke-width="1.85" vector-effect="non-scaling-stroke"/><path d="M440,70 L450,150 L580,290" fill="none" stroke="#000" stroke-width="1.85" vector-effect="non-scaling-stroke"/><path d="M500,80 L500,140 L620,220" fill="none" stroke="#000" stroke-width="1.85" vector-effect="non-scaling-stroke"/><path d="M340,380 L530,470" fill="none" stroke="#000" stroke-width="1.85" vector-effect="non-scaling-stroke"/><path d="M120,150 L170,140 L180,430" fill="none" stroke="#000" stroke-width="1.85" vector-effect="non-scaling-stroke"/><path d="M420,600 L580,620" fill="none" stroke="#000" stroke-width="1.85" vector-effect="non-scaling-stroke"/><path d="M460,520 L430,600" fill="none" stroke="#000" stroke-width="1.85" vector-effect="non-scaling-stroke"/><path d="M600,340 L720,380" fill="none" stroke="#000" stroke-width="1.85" vector-effect="non-scaling-stroke"/><path d="M650,400 L710,420 L680,530" fill="none" stroke="#000" stroke-width="1.85" vector-effect="non-scaling-stroke"/><path d="M160,690 C160.8,670 153.3,606.7 165,570 C176.7,533.3 202.5,508.3 230,470 C257.5,431.7 296.7,363.3 330,340 C363.3,316.7 398.3,316.7 430,330 C461.7,343.3 498.3,395 520,420 C541.7,445 553.3,470 560,480" fill="none" stroke="#000" stroke-width="1.85" vector-effect="non-scaling-stroke"/><path d="M600,330 C606.7,308.3 623.3,238.3 640,200 C656.7,161.7 686.7,133.3 700,100 C713.3,66.7 716.7,16.7 720,0" fill="none" stroke="#000" stroke-width="1.85" vector-effect="non-scaling-stroke"/></g>
<g transform="translate(440,205) scale(0.05)" stroke-linejoin="round" stroke-linecap="round"><path d="M210,440 L300,300 L380,270 L480,275 L500,210 L850,390 L820,520 L660,470 L640,520 L740,620 L720,730 L650,760 L520,720 L660,840 L630,930 L270,710 L300,560Z" fill="#3b60c8" stroke="#000" stroke-width="2.2" vector-effect="non-scaling-stroke"/><path d="M400,330 L330,660" fill="none" stroke="#000" stroke-width="1.6" vector-effect="non-scaling-stroke"/><path d="M600,330 L560,640 L640,690" fill="none" stroke="#000" stroke-width="1.4" vector-effect="non-scaling-stroke"/><path d="M650,470 L600,480" fill="none" stroke="#000" stroke-width="1.4" vector-effect="non-scaling-stroke"/></g>
<g transform="translate(330,240) scale(0.2)" stroke-linejoin="round" stroke-linecap="round"><path d="M48,420 L45,385 L160,330" fill="none" stroke="#000" stroke-width="5.8" vector-effect="non-scaling-stroke"/><path d="M48,420 L45,385 L160,330" fill="none" stroke="#fff" stroke-width="2.0" vector-effect="non-scaling-stroke"/><path d="M260,290 C273.3,283.3 313.3,265 340,250 C366.7,235 406.7,208.3 420,200" fill="none" stroke="#000" stroke-width="5.8" vector-effect="non-scaling-stroke"/><path d="M260,290 C273.3,283.3 313.3,265 340,250 C366.7,235 406.7,208.3 420,200" fill="none" stroke="#fff" stroke-width="2.0" vector-effect="non-scaling-stroke"/><path d="M610,92 C625,93.7 671.7,95.7 700,102 C728.3,108.3 754.2,119.5 780,130 C805.8,140.5 842.5,159.2 855,165" fill="none" stroke="#000" stroke-width="5.8" vector-effect="non-scaling-stroke"/><path d="M610,92 C625,93.7 671.7,95.7 700,102 C728.3,108.3 754.2,119.5 780,130 C805.8,140.5 842.5,159.2 855,165" fill="none" stroke="#fff" stroke-width="2.0" vector-effect="non-scaling-stroke"/><path d="M900,195 L945,228" fill="none" stroke="#000" stroke-width="5.8" vector-effect="non-scaling-stroke"/><path d="M900,195 L945,228" fill="none" stroke="#fff" stroke-width="2.0" vector-effect="non-scaling-stroke"/><path d="M170,326 L250,294" fill="none" stroke="#000" stroke-width="8.4" vector-effect="non-scaling-stroke"/><path d="M170,326 L250,294" fill="none" stroke="#fff" stroke-width="4.6000000000000005" vector-effect="non-scaling-stroke"/><path d="M862,170 L893,192" fill="none" stroke="#000" stroke-width="7.800000000000001" vector-effect="non-scaling-stroke"/><path d="M862,170 L893,192" fill="none" stroke="#fff" stroke-width="4.000000000000001" vector-effect="non-scaling-stroke"/><path d="M448,182 C460,173.3 496.7,143.7 520,130 C543.3,116.3 576.7,105 588,100" fill="none" stroke="#000" stroke-width="11.5" vector-effect="non-scaling-stroke"/><path d="M448,182 C460,173.3 496.7,143.7 520,130 C543.3,116.3 576.7,105 588,100" fill="none" stroke="#fff" stroke-width="7.7" vector-effect="non-scaling-stroke"/><ellipse cx="425" cy="200" rx="15" ry="20" transform="rotate(-30 425 200)" fill="#fff" stroke="#000" stroke-width="1.8" vector-effect="non-scaling-stroke"/><ellipse cx="420" cy="202" rx="6" ry="9" transform="rotate(-30 420 202)" fill="#fff" stroke="#000" stroke-width="1.5" vector-effect="non-scaling-stroke"/></g>
<g transform="translate(340,320) scale(0.2)" stroke-linejoin="round" stroke-linecap="round"><path d="M58,345 L60,310 L150,272" fill="none" stroke="#000" stroke-width="5.8" vector-effect="non-scaling-stroke"/><path d="M58,345 L60,310 L150,272" fill="none" stroke="#fff" stroke-width="2.0" vector-effect="non-scaling-stroke"/><path d="M225,235 C235.8,225.8 267.5,200.5 290,180 C312.5,159.5 348.3,123.3 360,112" fill="none" stroke="#000" stroke-width="5.8" vector-effect="non-scaling-stroke"/><path d="M225,235 C235.8,225.8 267.5,200.5 290,180 C312.5,159.5 348.3,123.3 360,112" fill="none" stroke="#fff" stroke-width="2.0" vector-effect="non-scaling-stroke"/><path d="M590,180 C608.3,184.2 663.7,193.3 700,205 C736.3,216.7 790,242.5 808,250" fill="none" stroke="#000" stroke-width="5.8" vector-effect="non-scaling-stroke"/><path d="M590,180 C608.3,184.2 663.7,193.3 700,205 C736.3,216.7 790,242.5 808,250" fill="none" stroke="#fff" stroke-width="2.0" vector-effect="non-scaling-stroke"/><path d="M852,272 L940,355" fill="none" stroke="#000" stroke-width="5.8" vector-effect="non-scaling-stroke"/><path d="M852,272 L940,355" fill="none" stroke="#fff" stroke-width="2.0" vector-effect="non-scaling-stroke"/><path d="M160,266 L216,240" fill="none" stroke="#000" stroke-width="8.4" vector-effect="non-scaling-stroke"/><path d="M160,266 L216,240" fill="none" stroke="#fff" stroke-width="4.6000000000000005" vector-effect="non-scaling-stroke"/><path d="M812,252 L846,270" fill="none" stroke="#000" stroke-width="7.800000000000001" vector-effect="non-scaling-stroke"/><path d="M812,252 L846,270" fill="none" stroke="#fff" stroke-width="4.000000000000001" vector-effect="non-scaling-stroke"/><path d="M388,95 C393.3,92.5 406.3,81.8 420,80 C433.7,78.2 461.7,83.3 470,84" fill="none" stroke="#000" stroke-width="11.5" vector-effect="non-scaling-stroke"/><path d="M388,95 C393.3,92.5 406.3,81.8 420,80 C433.7,78.2 461.7,83.3 470,84" fill="none" stroke="#fff" stroke-width="7.7" vector-effect="non-scaling-stroke"/><path d="M508,105 C510.7,112.5 515.3,137.5 524,150 C532.7,162.5 554,175 560,180" fill="none" stroke="#000" stroke-width="10.5" vector-effect="non-scaling-stroke"/><path d="M508,105 C510.7,112.5 515.3,137.5 524,150 C532.7,162.5 554,175 560,180" fill="none" stroke="#fff" stroke-width="6.7" vector-effect="non-scaling-stroke"/><ellipse cx="368" cy="106" rx="16" ry="20" transform="rotate(-30 368 106)" fill="#fff" stroke="#000" stroke-width="1.8" vector-effect="non-scaling-stroke"/><ellipse cx="362" cy="110" rx="6" ry="9" transform="rotate(-30 362 110)" fill="#fff" stroke="#000" stroke-width="1.5" vector-effect="non-scaling-stroke"/><ellipse cx="582" cy="185" rx="13" ry="18" transform="rotate(-10 582 185)" fill="#fff" stroke="#000" stroke-width="1.8" vector-effect="non-scaling-stroke"/><ellipse cx="503" cy="95" rx="18" ry="16" transform="rotate(0 503 95)" fill="#fff" stroke="#000" stroke-width="1.8" vector-effect="non-scaling-stroke"/></g>
<g transform="translate(45,95) scale(0.1)" stroke-linejoin="round" stroke-linecap="round"><path d="M1000,20 C966.7,35 866.7,80 800,110 C733.3,140 663.3,170 600,200 C536.7,230 470,261.7 420,290 C370,318.3 336.7,343.3 300,370 C263.3,396.7 225,425 200,450 C175,475 160.8,496.7 150,520 C139.2,543.3 136.7,565.8 135,590 C133.3,614.2 139.2,652.5 140,665" fill="none" stroke="#000" stroke-width="2.7" vector-effect="non-scaling-stroke"/><path d="M140,665 L85,690 L75,820 L140,895 L345,785 L355,690 L360,640" fill="none" stroke="#000" stroke-width="2.7" vector-effect="non-scaling-stroke"/><path d="M360,640 C371.7,633.3 410,616.7 430,600 C450,583.3 467.5,558.3 480,540 C492.5,521.7 485,506.7 505,490 C525,473.3 550.8,461.7 600,440 C649.2,418.3 741.7,385 800,360 C858.3,335 916.7,300.8 950,290 C983.3,279.2 991.7,294.2 1000,295" fill="none" stroke="#000" stroke-width="2.7" vector-effect="non-scaling-stroke"/><path d="M1000,120 C975,126.7 900,141.7 850,160 C800,178.3 758.3,201.7 700,230 C641.7,258.3 561.7,300 500,330 C438.3,360 373.3,386.7 330,410 C286.7,433.3 259.2,451.7 240,470 C220.8,488.3 220,507.5 215,520 C210,532.5 210.8,540.8 210,545" fill="none" stroke="#000" stroke-width="1.85" vector-effect="non-scaling-stroke"/><path d="M85,690 L150,660 L240,625 L215,545 L290,510 L350,580 L360,640" fill="none" stroke="#000" stroke-width="1.85" vector-effect="non-scaling-stroke"/><path d="M100,720 L150,775 L345,690" fill="none" stroke="#000" stroke-width="1.85" vector-effect="non-scaling-stroke"/><path d="M150,775 L145,870" fill="none" stroke="#000" stroke-width="1.85" vector-effect="non-scaling-stroke"/><path d="M495,345 C495.8,359.2 500.8,405.8 500,430 C499.2,454.2 491.7,480 490,490" fill="none" stroke="#000" stroke-width="1.85" vector-effect="non-scaling-stroke"/></g>
<g transform="translate(120,70) scale(0.1)" stroke-linejoin="round" stroke-linecap="round"><path d="M0,380 C33.3,365 150,311.7 200,290 C250,268.3 263.3,262.5 300,250 C336.7,237.5 396.7,225.8 420,215 C443.3,204.2 436.7,190 440,185" fill="none" stroke="#000" stroke-width="2.7" vector-effect="non-scaling-stroke"/><path d="M440,185 L580,100 L705,290 L710,360 L620,420 L570,430 L490,345 L440,300 L440,185" fill="none" stroke="#000" stroke-width="2.7" vector-effect="non-scaling-stroke"/><path d="M470,200 L505,250 L640,320 L705,290" fill="none" stroke="#000" stroke-width="1.85" vector-effect="non-scaling-stroke"/><path d="M505,250 L500,330 L560,400 L620,330 L580,235" fill="none" stroke="#000" stroke-width="1.85" vector-effect="non-scaling-stroke"/><path d="M630,150 L860,110 L885,130 L860,220 L800,300 L710,370" fill="none" stroke="#000" stroke-width="2.7" vector-effect="non-scaling-stroke"/><path d="M720,245 L840,180 L850,140" fill="none" stroke="#000" stroke-width="1.85" vector-effect="non-scaling-stroke"/><path d="M440,300 L330,330 L300,420 L300,560 L330,580 L400,560 L460,560 L570,650 L660,600 L650,530 L640,480 L655,420 L620,420" fill="none" stroke="#000" stroke-width="2.7" vector-effect="non-scaling-stroke"/><path d="M390,330 L370,360 L370,500 L440,500 L460,470 L560,540 L640,530" fill="none" stroke="#000" stroke-width="1.85" vector-effect="non-scaling-stroke"/><path d="M390,420 L470,480" fill="none" stroke="#000" stroke-width="1.85" vector-effect="non-scaling-stroke"/><path d="M0,630 C33.3,615 153.3,554.2 200,540 C246.7,525.8 263.3,541.7 280,545 C296.7,548.3 296.7,557.5 300,560" fill="none" stroke="#000" stroke-width="2.7" vector-effect="non-scaling-stroke"/><path d="M0,450 C25,441.7 100,411.7 150,400 C200,388.3 270,386.7 300,380 C330,373.3 325,363.3 330,360" fill="none" stroke="#000" stroke-width="1.85" vector-effect="non-scaling-stroke"/></g>
<g transform="translate(0,0) scale(1)" stroke-linejoin="round" stroke-linecap="round"><ellipse cx="201.6" cy="123.2" rx="11.3" ry="7.7" transform="rotate(-42 201.6 123.2)" fill="none" stroke="#000" stroke-width="2.6" vector-effect="non-scaling-stroke"/><ellipse cx="203.2" cy="124" rx="9" ry="5.4" transform="rotate(-50 203.2 124)" fill="none" stroke="#000" stroke-width="1.6" vector-effect="non-scaling-stroke"/></g>
<g transform="translate(120,50) scale(0.05)" stroke-linejoin="round" stroke-linecap="round"><path d="M290,600 L330,760 L660,590 L610,440 L600,270 L530,200 L380,190 L290,260 L290,370 L390,460 L290,600" fill="none" stroke="#000" stroke-width="2.7" vector-effect="non-scaling-stroke"/><path d="M430,230 L440,330 L570,420" fill="none" stroke="#000" stroke-width="1.85" vector-effect="non-scaling-stroke"/><path d="M390,460 L580,430" fill="none" stroke="#000" stroke-width="1.85" vector-effect="non-scaling-stroke"/><path d="M440,490 L500,640" fill="none" stroke="#000" stroke-width="1.85" vector-effect="non-scaling-stroke"/></g>
<g transform="translate(220,170) scale(0.16)" stroke-linejoin="round" stroke-linecap="round"><path d="M780,125 L945,98 L965,125 L955,160 L870,235 L890,300 L650,500 L600,580 L330,645 L120,640 L40,690 L20,630 L110,580 L110,530 L45,520 L55,495 L150,455 L330,440 L590,380 L650,330 L690,290 L720,245 L710,238 L760,200 L770,140Z" fill="none" stroke="#000" stroke-width="2.7" vector-effect="non-scaling-stroke"/><path d="M790,145 L935,118 L945,130" fill="none" stroke="#000" stroke-width="1.85" vector-effect="non-scaling-stroke"/><path d="M785,150 L775,205 L725,250 L700,300 L660,335 L640,400" fill="none" stroke="#000" stroke-width="1.85" vector-effect="non-scaling-stroke"/><path d="M185,500 L185,610" fill="none" stroke="#000" stroke-width="1.85" vector-effect="non-scaling-stroke"/><path d="M150,455 L185,500" fill="none" stroke="#000" stroke-width="1.85" vector-effect="non-scaling-stroke"/><path d="M185,495 L330,480 L610,420 L640,395 L710,372" fill="none" stroke="#000" stroke-width="1.85" vector-effect="non-scaling-stroke"/><path d="M610,420 L620,450 L860,285 L875,245" fill="none" stroke="#000" stroke-width="1.85" vector-effect="non-scaling-stroke"/><path d="M110,580 L185,610 L330,615 L600,550 L630,460 L620,450" fill="none" stroke="#000" stroke-width="1.85" vector-effect="non-scaling-stroke"/><ellipse cx="460" cy="497" rx="52" ry="24" transform="rotate(-15 460 497)" fill="none" stroke="#000" stroke-width="1.85" vector-effect="non-scaling-stroke"/><ellipse cx="152" cy="568" rx="15" ry="16" transform="rotate(0 152 568)" fill="none" stroke="#000" stroke-width="1.85" vector-effect="non-scaling-stroke"/><ellipse cx="912" cy="155" rx="14" ry="15" transform="rotate(0 912 155)" fill="none" stroke="#000" stroke-width="1.85" vector-effect="non-scaling-stroke"/><ellipse cx="786" cy="232" rx="14" ry="15" transform="rotate(0 786 232)" fill="none" stroke="#000" stroke-width="1.85" vector-effect="non-scaling-stroke"/><ellipse cx="757" cy="292" rx="14" ry="15" transform="rotate(0 757 292)" fill="none" stroke="#000" stroke-width="1.85" vector-effect="non-scaling-stroke"/></g>
</svg></body></html>
